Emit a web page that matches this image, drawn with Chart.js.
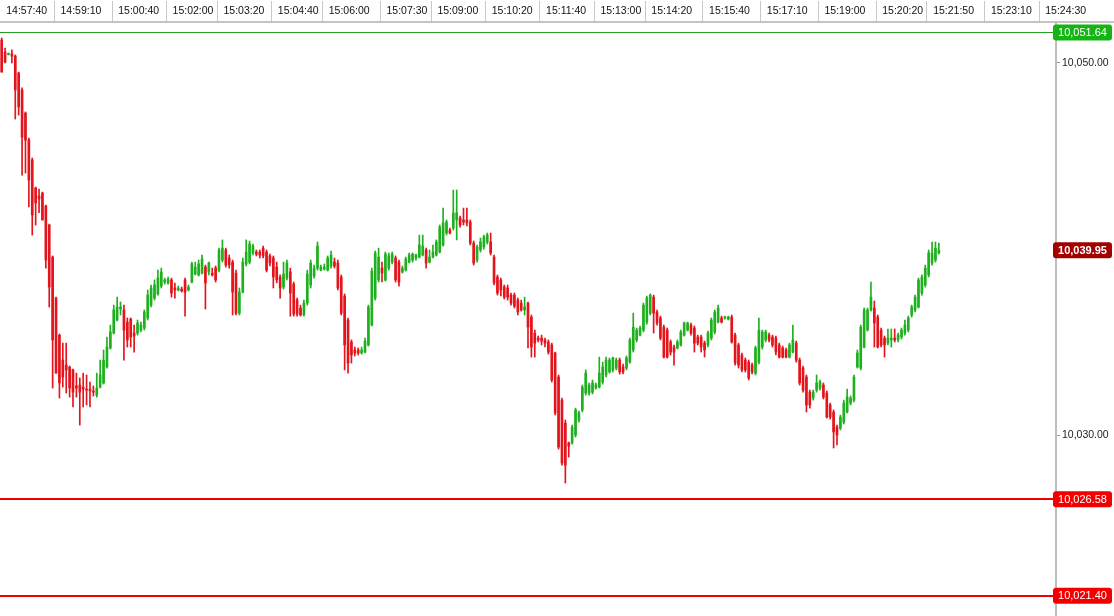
<!DOCTYPE html>
<html>
<head>
<meta charset="utf-8">
<title>Tick chart</title>
<script src="https://cdn.jsdelivr.net/npm/chart.js@4.4.1/dist/chart.umd.min.js"></script>
<style>
  html, body { margin: 0; padding: 0; background: #fff; }
  #wrap { position: relative; width: 1114px; height: 616px; }
</style>
</head>
<body>
<div id="wrap"><canvas id="chart"></canvas></div>
<script>
// 5 second candles
const open = [10051.23,10050.59,10050.45,10050.48,10050.37,10049.46,10048.55,10047.31,10045.86,10044.79,10043.29,10042.86,10043.02,10042.32,10041.30,10039.58,10037.38,10035.39,10034.05,10033.78,
  10033.68,10033.52,10032.66,10032.71,10032.60,10032.49,10032.49,10032.39,10032.17,10032.60,10032.82,10033.68,10034.70,10035.50,10036.20,10036.79,10036.74,10036.09,10036.25,10035.50,
  10035.50,10035.66,10035.77,10036.31,10037.00,10037.38,10037.60,10038.02,10038.24,10038.19,10038.35,10037.92,10037.81,10037.86,10038.35,10037.81,10038.24,10038.67,10038.62,10038.72,
  10039.04,10038.78,10038.72,10038.99,10038.88,10039.42,10039.96,10039.53,10039.31,10038.72,10036.57,10037.70,10039.21,10039.31,10039.80,10039.85,10039.85,10040.06,10039.85,10039.64,
  10039.53,10039.04,10038.51,10037.97,10038.45,10038.78,10038.13,10037.27,10036.84,10036.47,10037.11,10038.08,10038.56,10038.99,10038.88,10038.94,10038.88,10039.10,10039.31,10039.26,
  10038.51,10037.49,10036.20,10035.02,10034.59,10034.59,10034.43,10034.48,10034.86,10035.93,10037.38,10038.35,10038.99,10038.35,10038.99,10039.31,10039.53,10039.31,10038.78,10038.88,
  10039.31,10039.42,10039.53,10039.58,10039.69,10039.96,10039.31,10039.58,10039.69,10039.85,10040.23,10040.87,10041.03,10041.14,10041.57,10041.68,10041.57,10041.57,10041.46,10040.33,
  10039.42,10039.96,10040.12,10040.39,10040.39,10039.58,10038.51,10038.35,10037.97,10037.92,10037.54,10037.54,10037.27,10037.11,10036.74,10037.11,10036.36,10035.50,10035.23,10035.23,
  10035.13,10035.02,10034.86,10034.43,10033.14,10031.90,10030.67,10029.60,10029.60,10030.03,10030.83,10031.37,10032.28,10032.28,10032.33,10032.55,10032.60,10032.87,10033.25,10033.41,
  10033.52,10033.62,10034.05,10033.68,10033.62,10033.94,10034.59,10035.13,10035.39,10035.66,10036.09,10036.57,10037.43,10036.63,10036.31,10035.82,10035.66,10035.02,10034.75,10034.70,
  10034.86,10035.39,10035.66,10035.93,10035.77,10035.29,10035.29,10034.96,10034.86,10035.23,10035.56,10036.09,10036.31,10036.31,10036.25,10036.36,10035.39,10034.86,10034.32,10034.05,
  10033.94,10033.78,10033.35,10033.94,10034.75,10035.13,10035.39,10035.29,10035.23,10034.86,10034.70,10034.59,10034.21,10034.48,10034.96,10034.05,10033.62,10033.14,10032.33,10032.01,
  10032.44,10032.55,10032.71,10032.28,10031.64,10031.26,10030.45,10030.40,10030.72,10031.26,10031.74,10031.90,10033.68,10033.62,10034.75,10035.66,10036.74,10036.84,10036.36,10035.66,
  10035.23,10034.96,10035.13,10035.23,10035.13,10035.29,10035.50,10035.66,10036.47,10036.74,10036.90,10037.65,10038.08,10038.62,10039.26,10039.42,10039.80];
const high = [10051.34,10050.80,10050.54,10050.70,10050.43,10049.51,10048.66,10047.37,10045.97,10044.90,10043.34,10043.23,10043.07,10042.37,10041.35,10039.64,10037.43,10035.45,10034.96,10034.96,
  10033.73,10033.57,10033.35,10033.09,10033.35,10033.25,10032.87,10032.66,10033.35,10034.05,10034.59,10035.29,10035.93,10037.00,10037.43,10037.17,10037.00,10036.31,10036.31,10035.93,
  10036.20,10036.09,10036.74,10037.81,10038.08,10038.35,10038.88,10038.99,10038.45,10038.51,10038.45,10038.19,10038.02,10037.97,10038.45,10038.08,10039.31,10039.31,10039.42,10039.69,
  10039.15,10039.31,10038.99,10039.10,10040.06,10040.50,10040.06,10039.69,10039.42,10038.88,10037.92,10039.53,10040.50,10040.44,10040.28,10039.96,10039.96,10040.17,10039.96,10039.74,
  10039.64,10039.31,10038.62,10039.31,10039.42,10038.99,10038.24,10037.38,10037.00,10037.27,10038.88,10039.42,10039.15,10040.39,10039.15,10039.21,10039.64,10039.90,10039.53,10039.42,
  10038.62,10037.60,10036.31,10035.13,10034.75,10034.70,10034.75,10035.23,10037.00,10038.99,10039.90,10040.06,10039.31,10039.85,10039.80,10039.85,10039.64,10039.42,10039.10,10039.58,
  10039.80,10039.80,10039.74,10040.76,10040.76,10040.06,10039.96,10040.23,10040.50,10041.30,10042.21,10041.57,10041.14,10043.18,10043.18,10041.78,10042.21,10042.21,10041.57,10040.44,
  10040.23,10040.60,10040.76,10040.87,10040.87,10039.69,10038.62,10038.45,10038.08,10038.08,10037.65,10037.65,10037.38,10037.27,10037.43,10037.17,10036.47,10035.66,10035.34,10035.39,
  10035.23,10035.13,10034.96,10034.48,10033.25,10032.01,10030.83,10029.65,10030.56,10031.47,10031.31,10032.71,10033.52,10032.82,10032.98,10032.82,10034.21,10033.94,10034.21,10034.16,
  10034.21,10034.16,10034.16,10033.84,10034.27,10035.23,10036.57,10035.77,10035.88,10037.11,10037.49,10037.60,10037.54,10036.74,10036.41,10035.93,10035.77,10035.13,10034.86,10035.13,
  10035.66,10036.09,10036.09,10036.04,10035.88,10035.39,10035.39,10035.07,10035.61,10036.31,10036.74,10037.00,10036.41,10036.41,10036.41,10036.47,10035.50,10034.96,10034.43,10034.16,
  10034.05,10033.89,10034.80,10036.31,10035.66,10035.66,10035.50,10035.39,10035.34,10034.96,10034.80,10034.70,10034.96,10035.93,10035.07,10034.16,10033.73,10033.25,10032.44,10032.44,
  10033.25,10032.98,10032.82,10032.39,10031.74,10031.37,10030.56,10031.10,10031.90,10032.49,10032.12,10033.25,10034.59,10035.93,10036.84,10036.84,10038.24,10037.22,10036.47,10035.77,
  10035.34,10035.72,10035.72,10035.72,10035.50,10035.77,10036.20,10036.41,10037.00,10037.54,10038.45,10038.62,10039.15,10039.96,10040.39,10040.39,10040.33];
const low = [10049.51,10050.00,10050.43,10050.00,10046.99,10047.20,10043.98,10044.09,10042.27,10040.76,10041.30,10041.96,10041.57,10038.99,10036.90,10032.55,10033.35,10032.01,10032.60,10032.28,
  10032.06,10031.53,10032.06,10030.56,10031.53,10031.64,10031.53,10032.12,10032.06,10032.55,10032.76,10033.62,10034.64,10035.45,10036.15,10036.47,10034.05,10034.75,10034.75,10034.48,
  10035.39,10035.56,10035.66,10036.20,10036.90,10037.27,10037.54,10037.92,10038.13,10038.13,10037.43,10037.38,10037.76,10037.70,10036.41,10037.76,10038.19,10038.62,10038.56,10038.67,
  10036.79,10038.62,10038.56,10038.24,10038.78,10039.31,10039.04,10038.99,10036.47,10036.47,10036.47,10037.65,10039.10,10039.21,10039.69,10039.64,10039.53,10039.53,10038.78,10039.10,
  10037.92,10038.19,10037.38,10037.86,10038.35,10036.41,10036.41,10036.41,10036.41,10036.41,10037.00,10037.92,10038.45,10038.88,10038.83,10038.88,10038.83,10038.99,10038.99,10037.81,
  10036.47,10033.52,10033.35,10033.89,10034.27,10034.32,10034.37,10034.43,10034.80,10035.88,10037.27,10038.24,10038.24,10038.29,10038.88,10039.21,10038.24,10038.02,10038.72,10038.83,
  10039.26,10039.31,10039.42,10039.53,10039.64,10038.99,10039.26,10039.53,10039.64,10039.80,10040.17,10040.76,10040.82,10041.03,10040.50,10041.19,10041.30,10041.25,10040.23,10039.15,
  10039.31,10039.85,10040.01,10040.28,10039.69,10038.08,10037.54,10037.49,10037.33,10037.27,10037.00,10036.84,10036.47,10036.68,10036.47,10034.70,10034.21,10034.21,10035.02,10034.86,
  10034.75,10034.37,10032.87,10031.10,10029.27,10028.41,10027.45,10028.84,10029.54,10029.92,10030.72,10031.26,10032.17,10032.17,10032.23,10032.49,10032.55,10032.76,10033.14,10033.35,
  10033.41,10033.52,10033.30,10033.30,10033.52,10033.89,10034.48,10035.02,10035.34,10035.56,10035.98,10036.47,10035.50,10035.93,10035.13,10034.16,10034.16,10034.32,10033.78,10034.64,
  10034.80,10035.34,10035.61,10035.39,10034.48,10034.86,10034.48,10034.21,10034.75,10035.13,10035.45,10036.04,10036.04,10036.25,10036.20,10034.96,10033.78,10033.62,10033.41,10033.41,
  10032.98,10033.30,10033.25,10033.84,10034.64,10035.02,10035.02,10034.75,10034.32,10034.16,10034.16,10034.16,10034.16,10034.43,10033.94,10032.71,10032.33,10031.26,10031.47,10031.90,
  10032.33,10032.44,10031.96,10030.94,10030.88,10029.33,10029.49,10030.30,10030.62,10031.21,10031.64,10031.80,10033.62,10033.52,10034.70,10035.61,10036.68,10034.75,10034.70,10034.75,
  10034.21,10034.86,10034.75,10035.02,10035.02,10035.18,10035.39,10035.56,10036.36,10036.63,10036.84,10037.54,10037.97,10038.51,10039.15,10039.31,10039.74];
const close = [10049.51,10050.05,10050.51,10050.37,10048.55,10047.64,10046.02,10045.86,10043.72,10041.84,10042.48,10042.70,10041.57,10039.42,10037.97,10035.13,10033.35,10032.82,10033.14,10033.52,
  10032.55,10032.33,10032.55,10032.33,10032.49,10032.44,10032.39,10032.33,10032.55,10033.25,10034.05,10034.75,10035.56,10036.74,10036.90,10036.90,10035.66,10035.13,10035.29,10035.34,
  10036.04,10035.93,10036.63,10037.54,10037.92,10038.08,10038.45,10038.78,10038.35,10038.40,10037.65,10037.81,10037.92,10037.76,10037.70,10037.97,10039.21,10039.04,10039.21,10039.47,
  10038.19,10039.26,10038.62,10038.35,10039.96,10040.06,10039.15,10039.15,10037.70,10036.57,10037.70,10039.31,10039.85,10040.28,10040.17,10039.74,10039.69,10039.64,10038.88,10039.26,
  10038.51,10038.35,10037.92,10038.67,10039.26,10037.65,10036.52,10036.52,10036.47,10037.11,10038.67,10039.26,10038.99,10040.17,10039.04,10039.04,10039.53,10039.69,10039.10,10037.92,
  10036.57,10034.86,10033.89,10034.32,10034.43,10034.43,10034.59,10035.07,10036.90,10038.83,10039.80,10039.58,10038.72,10039.74,10039.64,10039.74,10038.35,10038.24,10038.99,10039.47,
  10039.69,10039.74,10039.69,10040.23,10040.17,10039.26,10039.58,10039.85,10040.39,10041.19,10041.41,10041.46,10040.87,10041.94,10041.96,10041.30,10041.46,10041.41,10040.33,10039.26,
  10040.12,10040.39,10040.66,10040.76,10039.80,10038.19,10037.65,10037.81,10037.43,10037.43,10037.11,10036.95,10036.63,10036.74,10036.90,10035.82,10034.75,10034.96,10035.13,10035.07,
  10034.96,10034.48,10032.98,10031.21,10029.38,10028.52,10028.41,10029.43,10030.45,10031.37,10031.21,10032.60,10033.35,10032.71,10032.82,10032.71,10033.35,10033.68,10034.05,10034.05,
  10034.16,10034.05,10033.41,10033.41,10034.16,10035.13,10035.82,10035.66,10035.77,10037.00,10037.38,10037.54,10036.57,10036.04,10035.23,10034.21,10034.21,10034.48,10034.48,10035.02,
  10035.56,10036.04,10036.04,10035.50,10034.96,10034.96,10034.75,10034.59,10035.50,10036.20,10036.63,10036.84,10036.09,10036.36,10036.36,10035.02,10033.89,10033.78,10033.52,10033.52,
  10033.09,10033.41,10034.70,10035.66,10035.56,10035.56,10035.13,10034.86,10034.48,10034.21,10034.21,10034.21,10034.86,10035.13,10034.05,10032.82,10032.44,10031.64,10031.64,10032.33,
  10032.82,10032.87,10032.06,10030.99,10030.99,10030.19,10030.03,10030.99,10031.74,10032.06,10032.01,10033.14,10034.43,10035.82,10036.74,10036.74,10037.43,10036.04,10034.75,10034.86,
  10034.86,10035.23,10035.23,10035.13,10035.39,10035.66,10035.93,10036.31,10036.90,10037.43,10038.35,10038.51,10038.99,10039.80,10039.80,10040.06,10039.95];

// time header: label text and the candle slot each one sits on
const timeLabels = ['14:57:40','14:59:10','15:00:40','15:02:00','15:03:20','15:04:40','15:06:00','15:07:30','15:09:00','15:10:20',
  '15:11:40','15:13:00','15:14:20','15:15:40','15:17:10','15:19:00','15:20:20','15:21:50','15:23:10','15:24:30'];
const timeSlots = [0,16,33,49,64,80,95,112,127,143,159,175,190,207,224,241,258,273,290,306];
const slotCount = 311;

// price axis
const yTicks = [10030, 10050];
const yMin = 10020.31, yMax = 10052.20;

// horizontal levels + current price tag
const levels = [10051.64, 10026.58, 10021.40];
const levelColors = ['#22a022', '#ee0000', '#ee0000'];
const levelWidths = [1, 2, 2];
const tagColors = ['#14b414', '#f20000', '#f20000'];
const lastPrice = 10039.95;

const UP = '#1fb01f', DOWN = '#e3141b';
const FONT = '"Liberation Sans", Arial, sans-serif';
const fmt = (v) => v.toLocaleString('en-US', { minimumFractionDigits: 2, maximumFractionDigits: 2 });

const labels = Array.from({ length: slotCount }, (_, i) => {
  const k = timeSlots.indexOf(i);
  return k >= 0 ? timeLabels[k] : '';
});
const colors = close.map((c, i) => (c >= open[i] ? UP : DOWN));

const priceMarks = {
  id: 'priceMarks',
  afterDatasetsDraw(chart) {
    const { ctx, chartArea: a, scales: { y } } = chart;
    ctx.save();
    levels.forEach((v, i) => {
      const w = levelWidths[i];
      const py = Math.round(y.getPixelForValue(v)) + (w % 2 ? 0.5 : 0);
      ctx.strokeStyle = levelColors[i];
      ctx.lineWidth = w;
      ctx.beginPath(); ctx.moveTo(a.left, py); ctx.lineTo(a.right, py); ctx.stroke();
    });
    ctx.restore();
  },
  afterDraw(chart) {
    const { ctx, chartArea: a, scales: { x, y } } = chart;
    ctx.save();
    // the header rule runs on over the price axis
    ctx.fillStyle = '#c4c4c4';
    ctx.fillRect(a.right, x.bottom - 1, chart.width - a.right, 2);
    const tag = (v, bg, bold) => {
      const py = y.getPixelForValue(v);
      ctx.fillStyle = bg;
      ctx.beginPath(); ctx.roundRect(a.right - 3, py - 8, 59, 16, 3); ctx.fill();
      ctx.fillStyle = '#fff';
      ctx.font = (bold ? 'bold ' : '') + '11px ' + FONT;
      ctx.textAlign = 'center'; ctx.textBaseline = 'middle';
      ctx.fillText(fmt(v), a.right + 26.5, py + 0.5);
    };
    levels.forEach((v, i) => tag(v, tagColors[i]));
    tag(lastPrice, '#a40000', true);
    ctx.restore();
  }
};

new Chart(document.getElementById('chart'), {
  type: 'bar',
  data: {
    labels,
    datasets: [
      { label: 'body', data: open.map((o, i) => [o, close[i]]), backgroundColor: colors, barThickness: 2, minBarLength: 1, grouped: false, order: 0 },
      { label: 'wick', data: low.map((l, i) => [l, high[i]]), backgroundColor: colors, barThickness: 1, grouped: false, order: 1 }
    ]
  },
  options: {
    responsive: true, maintainAspectRatio: false, animation: false,
    layout: { padding: 0 },
    plugins: { legend: { display: false }, tooltip: { enabled: false } },
    scales: {
      x: {
        position: 'top', offset: true,
        afterFit: (s) => { s.height = 22; s.paddingLeft = 0; s.paddingRight = 0; },
        grid: { offset: true, drawOnChartArea: false, drawTicks: true, tickLength: 21, lineWidth: 1,
          color: (c) => (timeSlots.includes(c.index) ? '#c8c8c8' : 'rgba(0,0,0,0)') },
        border: { display: true, color: '#c4c4c4', width: 2 },
        ticks: { autoSkip: false, maxRotation: 0, minRotation: 0, align: 'start', labelOffset: 4.5, padding: -16,
          color: '#111', font: { family: FONT, size: 10.5 } }
      },
      y: {
        position: 'right', min: yMin, max: yMax,
        // no half-label gap at the bottom: the plot runs to the window edge
        afterFit: (s) => { s.width = 58; s.paddingTop = 0; s.paddingBottom = 0; },
        afterBuildTicks: (s) => { s.ticks = yTicks.map((v) => ({ value: v })); },
        grid: { drawOnChartArea: false, drawTicks: true, tickLength: 4, color: '#9a9a9a' },
        border: { display: true, color: '#bdbdbd', width: 2 },
        ticks: { padding: 2, color: '#222', font: { family: FONT, size: 10.5 }, callback: (v) => fmt(v) }
      }
    }
  },
  plugins: [priceMarks]
});
</script>
</body>
</html>
